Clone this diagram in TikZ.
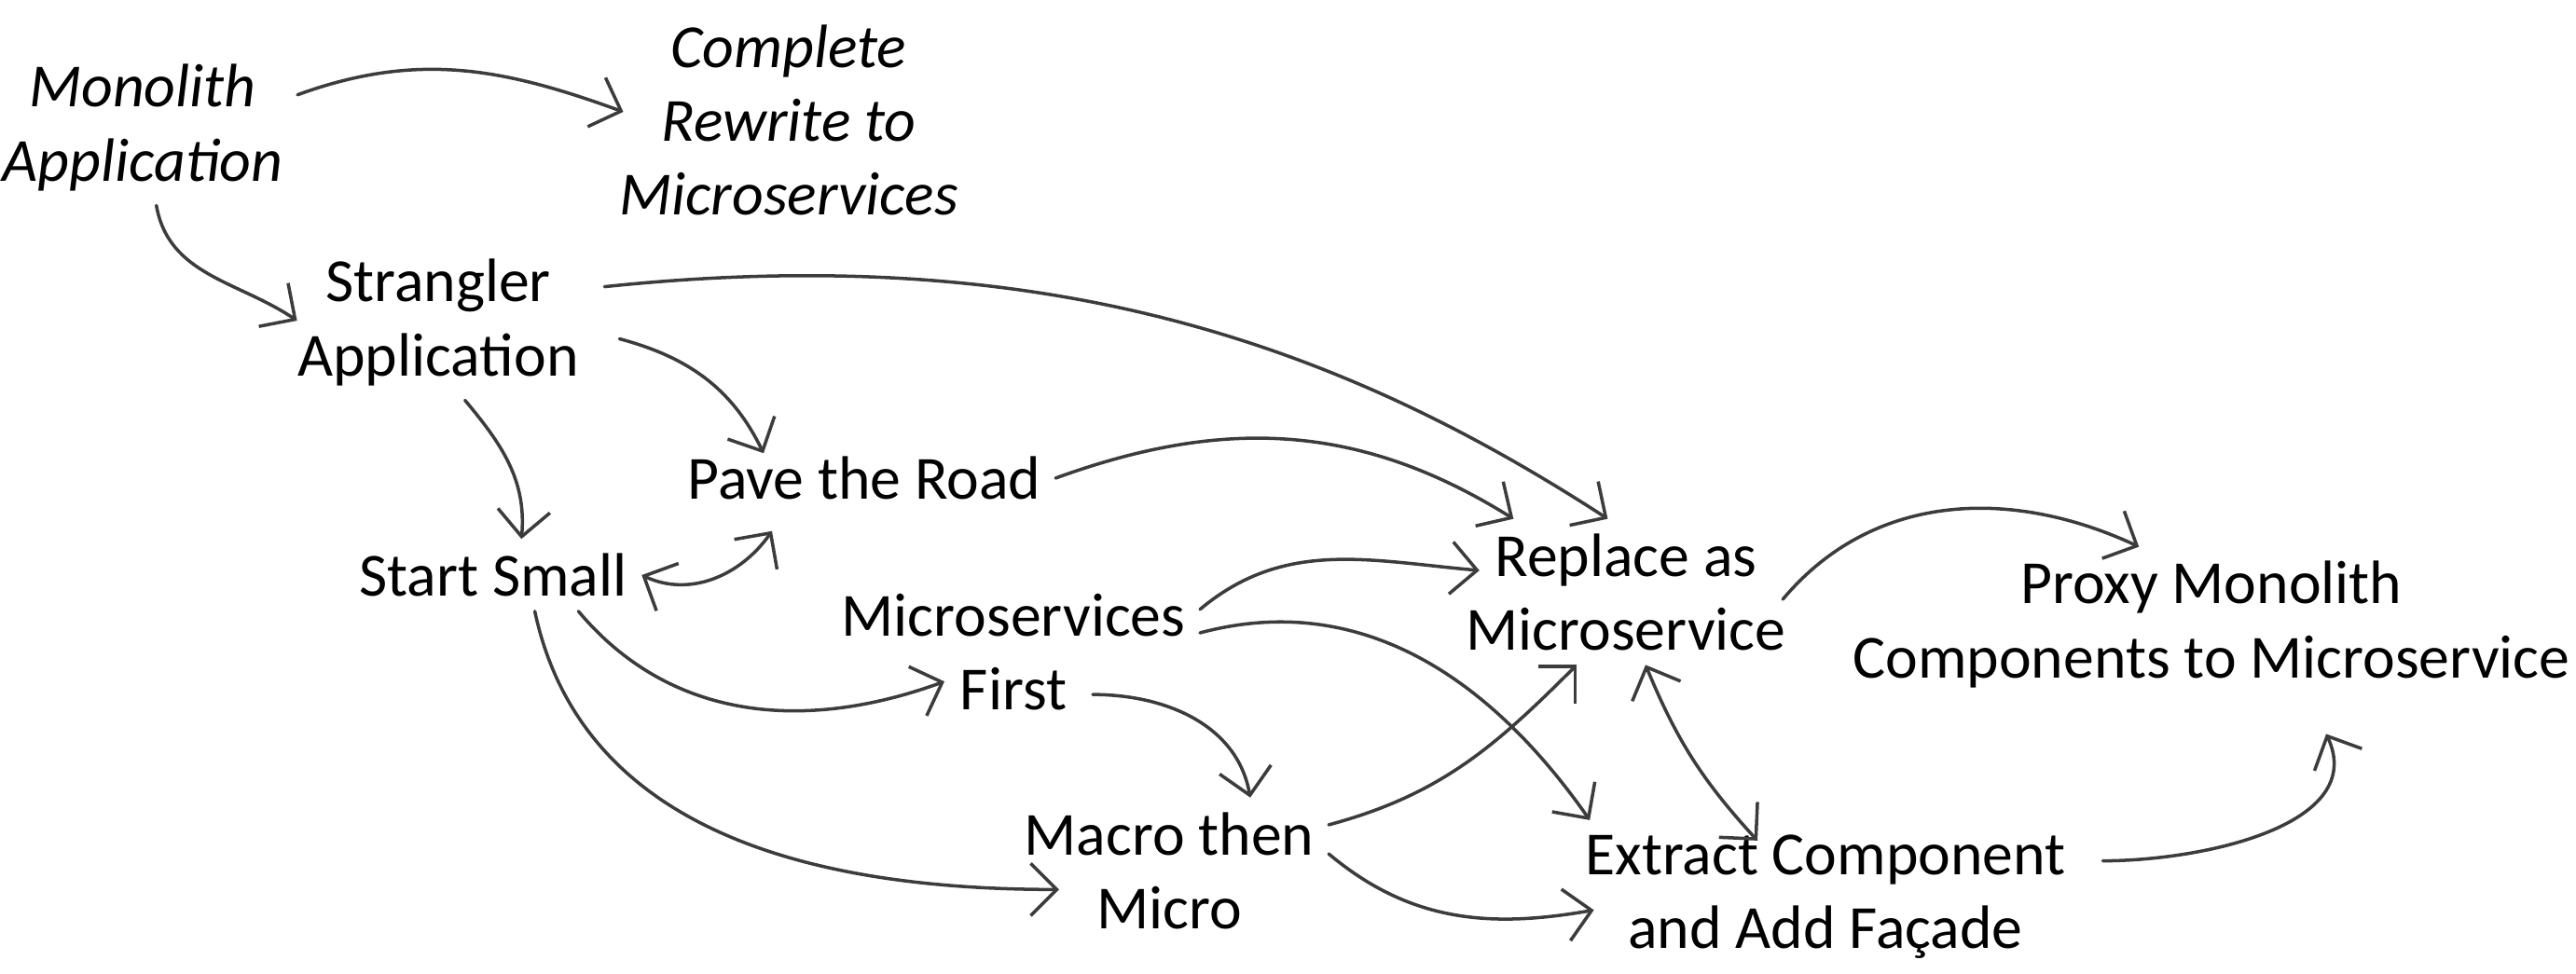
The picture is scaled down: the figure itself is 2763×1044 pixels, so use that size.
\documentclass[tikz,border=0pt]{standalone}
\usepackage{fontspec}
\setmainfont{Carlito}
\usetikzlibrary{arrows.meta}

\definecolor{linegray}{HTML}{3C3C3C}

\tikzset{
  idea/.style = {align = center, inner sep = 0.15cm, font = \fontsize{18.7}{22.5}\selectfont},
  ideait/.style = {idea, font = \fontsize{18.7}{22.5}\selectfont\itshape},
  barb/.tip = {Straight Barb[length = 2.8mm, width = 5.6mm]},
  flow/.style = {draw = linegray, line width = 1pt, line cap = round, -barb},
  twoway/.style = {flow, barb-barb}
}

\begin{document}
\begin{tikzpicture}[x = 0.01cm, y = 0.01cm]
\useasboundingbox (0,0) rectangle (2763,-1044);

\node[ideait] (mono) at (153,-137) {Monolith\\Application};
\node[ideait] (rewrite) at (846,-129) {Complete\\Rewrite to\\Microservices};
\node[idea] (strangler) at (470,-346) {Strangler\\Application};
\node[idea] (pave) at (927,-513) {Pave the Road};
\node[idea] (small) at (529,-617) {Start Small};
\node[idea] (first) at (1087,-700) {Microservices\\First};
\node[idea] (replace) at (1744,-635) {Replace as\\Microservice};
\node[idea] (proxy) at (2372,-670) {Proxy Monolith\\Components to Microservice};
\node[idea] (macro) at (1254,-934) {Macro then\\Micro};
\node[idea] (extract) at (1958,-962) {Extract Component\\and Add Façade};

\draw[flow] (mono.12) to[out = 20, in = 160] ([shift = {(20,9)}]rewrite.west);
\draw[flow] (mono.-80) to[out = -80, in = 146] ([shift = {(15,2)}]strangler.west);
\draw[flow] ([shift = {(12,0)}]strangler.13) to[out = 6, in = 147, out looseness = 1.1, in looseness = 0.8] (replace.104);
\draw[flow] ([shift = {(28,0)}]strangler.-6) to[out = -15, in = 116] ([shift = {(-108,-12)}]pave.north);
\draw[flow] (strangler.-71) to[out = -50, in = 85] (small.52);
\draw[flow] (pave.east) to[out = 20, in = 148] (replace.147);
\draw[twoway] (small.east) to[out = -25, in = -125] ([shift = {(-99,-18)}]pave.south);
\draw[flow] (small.-23) to[out = -50, in = -160] ([shift = {(-74,47)}]first.south);
\draw[flow] (small.-41) to[out = -78, in = 180] ([shift = {(-118,58)}]macro.south);
\draw[flow] (first.13) to[out = 40, in = 175] ([shift = {(30,0)}]replace.173);
\draw[flow] (first.6) to[out = 15, in = 125] (extract.162);
\draw[flow] ([shift = {(85,33)}]first.south) to[out = 0, in = 100] (macro.42);
\draw[flow] (macro.16) to[out = 15, in = -135] (replace.-124);
\draw[flow] (macro.6) to[out = -40, in = 190] ([shift = {(25,0)}]extract.183);
\draw[twoway] (replace.-75) to[bend right = 10] ([shift = {(-73,-22)}]extract.north);
\draw[flow] ([shift = {(-19,-8)}]replace.east) to[out = 50, in = 155] (proxy.133);
\draw[flow] ([shift = {(24,0)}]extract.8) to[out = 0, in = -65] ([shift = {(123,-34)}]proxy.south);
\end{tikzpicture}
\end{document}
